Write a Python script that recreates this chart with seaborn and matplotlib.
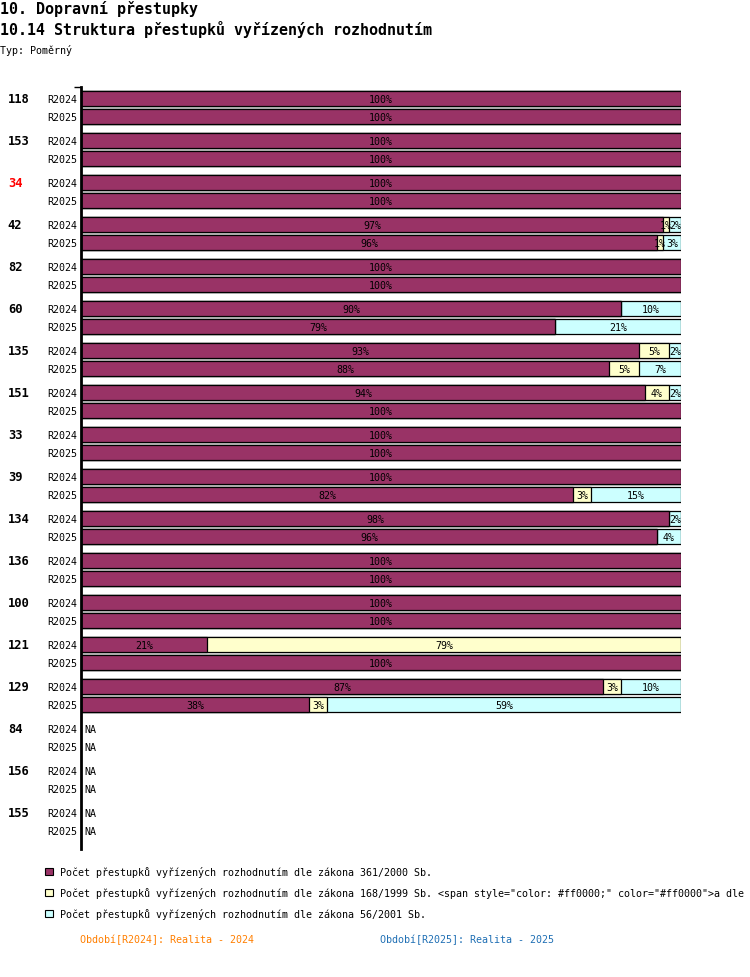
"""
Struktura přestupků vyřízených rozhodnutím - 100% stacked horizontal bars.
"""
import numpy as np
import pandas as pd
import matplotlib
matplotlib.use("Agg")
import matplotlib.pyplot as plt
from matplotlib.patches import Patch, Rectangle
import seaborn as sns

NA = np.nan

groups = ['118', '153', '34', '42', '82', '60', '135', '151', '33', '39',
          '134', '136', '100', '121', '129', '84', '156', '155']
periods = ['R2024', 'R2025']
highlight = '34'

# share (%) of each law, per group, per period
p361_2024 = [100, 100, 100, 97, 100, 90, 93, 94, 100, 100, 98, 100, 100, 21, 87, NA, NA, NA]
p168_2024 = [0, 0, 0, 1, 0, 0, 5, 4, 0, 0, 0, 0, 0, 79, 3, NA, NA, NA]
p56_2024 = [0, 0, 0, 2, 0, 10, 2, 2, 0, 0, 2, 0, 0, 0, 10, NA, NA, NA]
p361_2025 = [100, 100, 100, 96, 100, 79, 88, 100, 100, 82, 96, 100, 100, 100, 38, NA, NA, NA]
p168_2025 = [0, 0, 0, 1, 0, 0, 5, 0, 0, 3, 0, 0, 0, 0, 3, NA, NA, NA]
p56_2025 = [0, 0, 0, 3, 0, 21, 7, 0, 0, 15, 4, 0, 0, 0, 59, NA, NA, NA]

series_names = [
    'Počet přestupků vyřízených rozhodnutím dle zákona 361/2000 Sb.',
    'Počet přestupků vyřízených rozhodnutím dle zákona 168/1999 Sb. '
    '<span style="color: #ff0000;" color="#ff0000">a dle',
    'Počet přestupků vyřízených rozhodnutím dle zákona 56/2001 Sb.',
]
colors = ['#993366', '#ffffcc', '#ccffff']
period_notes = ['Období[R2024]: Realita - 2024', 'Období[R2025]: Realita - 2025']
period_colors = ['#ff7f00', '#1f6fb4']

# long table
rows = []
for i, g in enumerate(groups):
    for per, vals in (('R2024', (p361_2024, p168_2024, p56_2024)),
                      ('R2025', (p361_2025, p168_2025, p56_2025))):
        a, b, c = vals[0][i], vals[1][i], vals[2][i]
        rows.append({'group': g, 'period': per, 's0': a, 's1': b, 's2': c})
df = pd.DataFrame(rows)
df['c0'] = df['s0']
df['c1'] = df['s0'] + df['s1']
df['c2'] = df['s0'] + df['s1'] + df['s2']

sns.set_theme(style='white')
plt.rcParams['font.family'] = ['DejaVu Sans Mono', 'DejaVu Sans']
plt.rcParams['text.color'] = 'black'

W, H = 750, 978
fig = plt.figure(figsize=(W / 100, H / 100), dpi=100)
ax = fig.add_axes([81 / W, (H - 850) / H, 600 / W, 762 / H])

width = 36 / 42
gap = 3 / 18
for col, color in zip(['c2', 'c1', 'c0'], colors[::-1]):
    sns.barplot(data=df, x=col, y='group', hue='period', orient='h',
                order=groups, hue_order=periods, dodge=True,
                palette={p: color for p in periods}, saturation=1,
                width=width, gap=gap, errorbar=None,
                edgecolor='black', linewidth=0.9, legend=False, ax=ax)

ax.set_xlim(0, 100)
ax.set_ylim(len(groups) - 0.357, -0.5)
ax.set_xlabel('')
ax.set_ylabel('')
ax.set_xticks([])
ax.set_yticks([-0.5])
ax.set_yticklabels([])
ax.tick_params(axis='y', length=5, width=1, color='black', direction='out', left=True)
for s in ['top', 'right', 'bottom']:
    ax.spines[s].set_visible(False)
ax.spines['left'].set_linewidth(2)
ax.spines['left'].set_color('black')

ytr = ax.get_yaxis_transform()
off = width / 4
for i, g in enumerate(groups):
    ax.text(-0.122, i - off, g, transform=ytr, ha='left', va='center',
            fontsize=8.7, fontweight='bold',
            color='red' if g == highlight else 'black')
    for k, per in enumerate(periods):
        y = i + (off if k else -off)
        ax.text(-0.006, y, per, transform=ytr, ha='right', va='center', fontsize=7.2)
        r = df[(df.group == g) & (df.period == per)].iloc[0]
        if np.isnan(r['s0']):
            ax.text(0.006, y, 'NA', transform=ytr, ha='left', va='center', fontsize=7.2)
            continue
        left = 0
        h = width / 2 * (1 - gap)
        for s in ['s0', 's1', 's2']:
            v = r[s]
            if v > 0:
                clip = Rectangle((left, y - h / 2), v, h, transform=ax.transData)
                t = ax.text(left + v / 2, y, f'{v:.0f}%', ha='center', va='center',
                            fontsize=7.2, color='black')
                t.set_clip_path(clip)
            left += v

# titles
fig.text(0, 1 - 9 / H, '10. Dopravní přestupky', ha='left', va='center',
         fontsize=10.8, fontweight='bold')
fig.text(0, 1 - 30 / H, '10.14 Struktura přestupků vyřízených rozhodnutím',
         ha='left', va='center', fontsize=10.8, fontweight='bold')
fig.text(0, 1 - 50 / H, 'Typ: Poměrný', ha='left', va='center', fontsize=7.2)

# legend
handles = [Patch(facecolor=c, edgecolor='black', linewidth=0.8) for c in colors]
fig.legend(handles, series_names, loc='upper left',
           bbox_to_anchor=(45 / W, 1 - 867 / H), frameon=False,
           fontsize=7.2, handlelength=0.8, handleheight=0.8,
           handletextpad=0.75, labelspacing=1.0, borderpad=0, borderaxespad=0)

for note, c, x in zip(period_notes, period_colors, [80, 380]):
    fig.text(x / W, 1 - 940 / H, note, ha='left', va='center', fontsize=7.2, color=c)

fig.savefig('out.png', dpi=100)
plt.close(fig)
